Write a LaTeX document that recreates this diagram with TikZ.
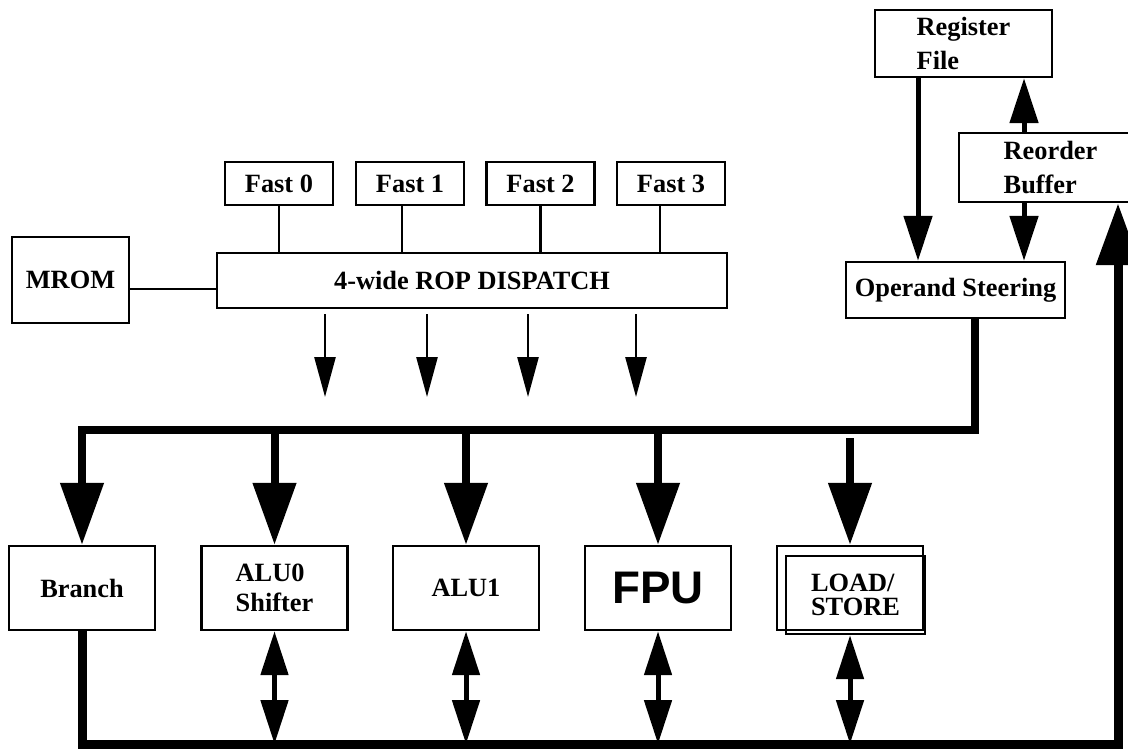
\documentclass[tikz,border=0pt]{standalone}
\usepackage{fontspec}
\setmainfont{Liberation Serif}
\newfontfamily\fpufont{Liberation Sans}
\usetikzlibrary{arrows.meta}

\begin{document}
\begin{tikzpicture}[x=0.02cm, y=-0.02cm,
  font=\bfseries\fontsize{15}{18}\selectfont,
  bx/.style={rectangle, draw, line width=1.4pt, inner sep=0pt, align=center},
  bxl/.style={bx, align=left},
  eu/.style={bx, minimum width=2.92cm, minimum height=1.68cm},
  ln/.style={line width=1.3pt},
  dn/.style={line width=1.5pt, -{Triangle[length=0.8cm, width=0.42cm]}},
  bus/.style={line width=0.16cm},
  bdn/.style={bus, -{Triangle[length=1.24cm, width=0.84cm]}},
  rf/.style={line width=0.1cm, -{Triangle[length=0.9cm, width=0.56cm]}},
  dbl/.style={line width=0.1cm, {Triangle[length=0.88cm, width=0.54cm]}-{Triangle[length=0.88cm, width=0.54cm]}}]
\clip (0,0) rectangle (1128,751);

% ---- register file, reorder buffer, operand steering ----
\node[bxl, minimum width=3.54cm, minimum height=1.34cm, font=\bfseries\fontsize{15}{19}\selectfont] (regf) at (963.5,43.5) {Register\\File};
\node[bxl, minimum width=3.66cm, minimum height=1.38cm, font=\bfseries\fontsize{15}{19}\selectfont] (rob) at (1050.5,167.5) {Reorder\\Buffer};
\node[bx, minimum width=4.38cm, minimum height=1.12cm] (opst) at (955.5,290) {Operand Steering};
\draw[rf] ([xshift=-0.91cm]regf.south) -- ([xshift=-0.91cm]regf.south |- opst.north);
\draw[rf] ([xshift=-0.53cm]rob.north) -- ([xshift=-0.53cm]rob.north |- regf.south);
\draw[rf] ([xshift=-0.53cm]rob.south) -- ([xshift=-0.53cm]rob.south |- opst.north);

% ---- fast path, MROM and dispatch ----
\foreach \i/\x in {0/279,1/410,2/540.5,3/671}
  \node[bx, minimum width=2.16cm, minimum height=0.86cm] (fast\i) at (\x,183.5) {Fast \i};
\node[bx, minimum width=10.2cm, minimum height=1.1cm] (disp) at (472,280.5) {4-wide ROP DISPATCH};
\node[bx, minimum width=2.34cm, minimum height=1.72cm] (mrom) at (70.5,280) {MROM};
\foreach \i/\s in {0/0,1/-0.16,2/0,3/-0.22}
  \draw[ln] ([xshift=\s cm]fast\i.south) -- ([xshift=\s cm]fast\i.south |- disp.north);
\draw[ln] ([yshift=-0.18cm]mrom.east) -- ([yshift=-0.18cm]mrom.east -| disp.west);
\foreach \i/\x in {1/325,2/427,3/528,4/636} {
  \coordinate (rop\i) at (\x,397);
  \draw[dn] ([yshift=-0.1cm]disp.south -| rop\i) -- (rop\i);
}

% ---- execution units ----
\node[eu] (branch) at (82,588) {Branch};
\node[eu, align=left, font=\bfseries\fontsize{15}{17}\selectfont] (alu0) at (274.5,588) {ALU0\\Shifter};
\node[eu] (alu1) at (466,588) {ALU1};
\node[eu, font=\fpufont\bfseries\fontsize{26}{30}\selectfont] (fpu) at (658,588) {FPU};
\node[eu] (ls) at (850,588) {};
\node[bxl, minimum width=2.78cm, minimum height=1.56cm, font=\bfseries\fontsize{15}{14}\selectfont] (lsb) at (855.5,595) {LOAD/\\STORE};

% ---- result buses ----
\coordinate (tb) at (0,430);
\coordinate (bb) at (0,744);
\draw[bdn] ([xshift=0.39cm]opst.south) |- (branch.north |- tb) -- (branch.north);
\foreach \u in {alu0,alu1,fpu} \draw[bdn] (\u.north |- tb) -- (\u.north);
\draw[bdn] ([yshift=-0.16cm]ls.north |- tb) -- (ls.north);
\draw[bus, line width=0.18cm, -{Triangle[length=1.24cm, width=0.84cm]}] (branch.south) |- ([xshift=1.35cm]rob.south |- bb) -- ([xshift=1.35cm]rob.south);
\foreach \u in {alu0,alu1,fpu} \draw[dbl] (\u.south) -- (\u.south |- bb);
\draw[dbl] (ls.south |- lsb.south) -- (ls.south |- bb);
\end{tikzpicture}
\end{document}
